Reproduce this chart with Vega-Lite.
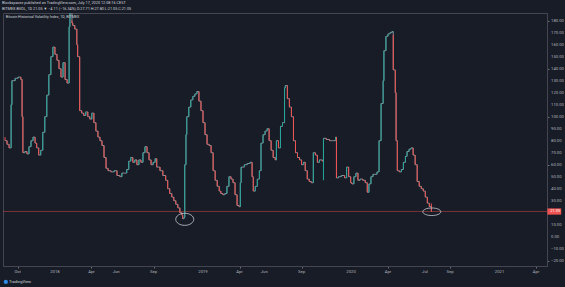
{
  "$schema": "https://vega.github.io/schema/vega-lite/v6.json",
  "width": 544,
  "height": 253,
  "autosize": {"type": "none"},
  "padding": {"left": 3, "top": 13, "right": 18, "bottom": 21},
  "background": "#181c27",
  "config": {"view": {"stroke": "#434651", "strokeWidth": 1}, "font": "Roboto"},
  "title": {
    "text": "Blockspacez published on TradingView.com, July 17, 2020 12:08:16 CEST",
    "subtitle": "BITMEX:BVOL, 1D  21.05 ▼ −4.11 (−16.34%)  O:27.71  H:27.80  L:21.05  C:21.05",
    "anchor": "start",
    "frame": "group",
    "fontSize": 3.8,
    "subtitleFontSize": 3.8,
    "fontWeight": "normal",
    "color": "#d1d4dc",
    "subtitleColor": "#d1d4dc",
    "offset": 2,
    "subtitlePadding": 2,
    "dx": -1
  },
  "datasets": {
    "xticks": [
      {"t": "2017-10-01", "lab": "Oct"},
      {"t": "2018-01-01", "lab": "2018"},
      {"t": "2018-04-01", "lab": "Apr"},
      {"t": "2018-06-01", "lab": "Jun"},
      {"t": "2018-09-01", "lab": "Sep"},
      {"t": "2019-01-01", "lab": "2019"},
      {"t": "2019-04-01", "lab": "Apr"},
      {"t": "2019-06-01", "lab": "Jun"},
      {"t": "2019-09-01", "lab": "Sep"},
      {"t": "2020-01-01", "lab": "2020"},
      {"t": "2020-04-01", "lab": "Apr"},
      {"t": "2020-07-01", "lab": "Jul"},
      {"t": "2020-09-01", "lab": "Sep"},
      {"t": "2021-01-01", "lab": "2021"},
      {"t": "2021-04-01", "lab": "Apr"}
    ],
    "yticks": [
      {"v": -20}, {"v": -10}, {"v": 0}, {"v": 10}, {"v": 30}, {"v": 40}, {"v": 50}, {"v": 60}, {"v": 70}, {"v": 80},
      {"v": 90}, {"v": 100}, {"v": 110}, {"v": 120}, {"v": 130}, {"v": 140}, {"v": 150}, {"v": 160}, {"v": 170}, {"v": 180}
    ],
    "bvol": [
      {"d": "2017-08-31", "o": 83, "c": 80},
      {"d": "2017-09-05", "o": 80, "c": 77},
      {"d": "2017-09-10", "o": 77, "c": 74},
      {"d": "2017-09-15", "o": 74, "c": 110},
      {"d": "2017-09-17", "o": 110, "c": 130},
      {"d": "2017-09-25", "o": 130, "c": 132},
      {"d": "2017-10-02", "o": 132, "c": 133},
      {"d": "2017-10-09", "o": 133, "c": 131},
      {"d": "2017-10-12", "o": 131, "c": 100},
      {"d": "2017-10-14", "o": 100, "c": 70},
      {"d": "2017-10-19", "o": 70, "c": 71},
      {"d": "2017-10-24", "o": 71, "c": 69},
      {"d": "2017-10-29", "o": 69, "c": 75},
      {"d": "2017-11-03", "o": 75, "c": 80},
      {"d": "2017-11-08", "o": 80, "c": 83},
      {"d": "2017-11-13", "o": 83, "c": 78},
      {"d": "2017-11-17", "o": 78, "c": 74},
      {"d": "2017-11-22", "o": 74, "c": 68},
      {"d": "2017-11-27", "o": 68, "c": 72},
      {"d": "2017-12-02", "o": 72, "c": 87},
      {"d": "2017-12-07", "o": 87, "c": 100},
      {"d": "2017-12-12", "o": 100, "c": 118},
      {"d": "2017-12-17", "o": 118, "c": 135},
      {"d": "2017-12-22", "o": 135, "c": 150},
      {"d": "2017-12-27", "o": 150, "c": 158},
      {"d": "2018-01-01", "o": 158, "c": 152},
      {"d": "2018-01-06", "o": 152, "c": 147},
      {"d": "2018-01-11", "o": 147, "c": 140},
      {"d": "2018-01-16", "o": 140, "c": 133},
      {"d": "2018-01-21", "o": 133, "c": 145},
      {"d": "2018-01-26", "o": 145, "c": 131},
      {"d": "2018-01-31", "o": 131, "c": 128},
      {"d": "2018-02-05", "o": 128, "c": 175},
      {"d": "2018-02-07", "o": 175, "c": 197},
      {"d": "2018-02-12", "o": 180, "c": 178},
      {"d": "2018-02-14", "o": 178, "c": 176},
      {"d": "2018-02-19", "o": 176, "c": 173},
      {"d": "2018-02-24", "o": 173, "c": 160},
      {"d": "2018-02-26", "o": 160, "c": 150},
      {"d": "2018-03-03", "o": 150, "c": 105},
      {"d": "2018-03-08", "o": 105, "c": 103},
      {"d": "2018-03-13", "o": 103, "c": 101},
      {"d": "2018-03-18", "o": 101, "c": 104},
      {"d": "2018-03-23", "o": 104, "c": 100},
      {"d": "2018-03-28", "o": 100, "c": 98},
      {"d": "2018-04-02", "o": 98, "c": 103},
      {"d": "2018-04-07", "o": 103, "c": 95},
      {"d": "2018-04-12", "o": 95, "c": 88},
      {"d": "2018-04-17", "o": 88, "c": 83},
      {"d": "2018-04-22", "o": 83, "c": 80},
      {"d": "2018-04-27", "o": 80, "c": 76},
      {"d": "2018-05-02", "o": 76, "c": 66},
      {"d": "2018-05-07", "o": 66, "c": 57},
      {"d": "2018-05-12", "o": 57, "c": 55},
      {"d": "2018-05-19", "o": 55, "c": 54},
      {"d": "2018-05-27", "o": 54, "c": 55},
      {"d": "2018-06-03", "o": 55, "c": 51},
      {"d": "2018-06-10", "o": 51, "c": 50},
      {"d": "2018-06-15", "o": 50, "c": 53},
      {"d": "2018-06-22", "o": 53, "c": 53},
      {"d": "2018-06-27", "o": 53, "c": 56},
      {"d": "2018-07-02", "o": 56, "c": 63},
      {"d": "2018-07-07", "o": 63, "c": 66},
      {"d": "2018-07-12", "o": 66, "c": 62},
      {"d": "2018-07-17", "o": 62, "c": 64},
      {"d": "2018-07-22", "o": 64, "c": 60},
      {"d": "2018-07-27", "o": 60, "c": 64},
      {"d": "2018-08-01", "o": 64, "c": 62},
      {"d": "2018-08-06", "o": 62, "c": 70},
      {"d": "2018-08-11", "o": 70, "c": 75},
      {"d": "2018-08-16", "o": 75, "c": 70},
      {"d": "2018-08-21", "o": 70, "c": 64},
      {"d": "2018-08-26", "o": 64, "c": 60},
      {"d": "2018-08-31", "o": 60, "c": 62},
      {"d": "2018-09-05", "o": 62, "c": 65},
      {"d": "2018-09-09", "o": 65, "c": 58},
      {"d": "2018-09-17", "o": 58, "c": 55},
      {"d": "2018-09-24", "o": 55, "c": 51},
      {"d": "2018-10-01", "o": 51, "c": 47},
      {"d": "2018-10-06", "o": 47, "c": 40},
      {"d": "2018-10-11", "o": 40, "c": 36},
      {"d": "2018-10-16", "o": 36, "c": 33},
      {"d": "2018-10-21", "o": 33, "c": 30},
      {"d": "2018-10-26", "o": 30, "c": 27},
      {"d": "2018-10-31", "o": 27, "c": 24},
      {"d": "2018-11-05", "o": 24, "c": 20},
      {"d": "2018-11-10", "o": 20, "c": 18},
      {"d": "2018-11-12", "o": 18, "c": 15},
      {"d": "2018-11-15", "o": 15, "c": 16},
      {"d": "2018-11-17", "o": 16, "c": 60},
      {"d": "2018-11-20", "o": 60, "c": 85},
      {"d": "2018-11-22", "o": 85, "c": 100},
      {"d": "2018-11-27", "o": 100, "c": 108},
      {"d": "2018-12-02", "o": 108, "c": 114},
      {"d": "2018-12-07", "o": 114, "c": 117},
      {"d": "2018-12-12", "o": 117, "c": 119},
      {"d": "2018-12-17", "o": 119, "c": 121},
      {"d": "2018-12-22", "o": 121, "c": 113},
      {"d": "2018-12-27", "o": 113, "c": 105},
      {"d": "2019-01-01", "o": 105, "c": 95},
      {"d": "2019-01-06", "o": 95, "c": 85},
      {"d": "2019-01-11", "o": 85, "c": 77},
      {"d": "2019-01-16", "o": 77, "c": 76},
      {"d": "2019-01-21", "o": 76, "c": 70},
      {"d": "2019-01-26", "o": 70, "c": 55},
      {"d": "2019-01-31", "o": 55, "c": 47},
      {"d": "2019-02-05", "o": 47, "c": 42},
      {"d": "2019-02-10", "o": 42, "c": 38},
      {"d": "2019-02-14", "o": 38, "c": 36},
      {"d": "2019-02-19", "o": 36, "c": 35},
      {"d": "2019-02-24", "o": 35, "c": 36},
      {"d": "2019-03-01", "o": 36, "c": 42},
      {"d": "2019-03-06", "o": 42, "c": 50},
      {"d": "2019-03-11", "o": 50, "c": 48},
      {"d": "2019-03-16", "o": 48, "c": 45},
      {"d": "2019-03-21", "o": 45, "c": 35},
      {"d": "2019-03-26", "o": 35, "c": 26},
      {"d": "2019-03-31", "o": 26, "c": 25},
      {"d": "2019-04-03", "o": 25, "c": 45},
      {"d": "2019-04-05", "o": 45, "c": 58},
      {"d": "2019-04-13", "o": 58, "c": 60},
      {"d": "2019-04-20", "o": 60, "c": 61},
      {"d": "2019-04-27", "o": 61, "c": 62},
      {"d": "2019-05-02", "o": 62, "c": 50},
      {"d": "2019-05-05", "o": 50, "c": 38},
      {"d": "2019-05-10", "o": 38, "c": 42},
      {"d": "2019-05-15", "o": 42, "c": 48},
      {"d": "2019-05-20", "o": 48, "c": 55},
      {"d": "2019-05-24", "o": 55, "c": 78},
      {"d": "2019-05-29", "o": 78, "c": 85},
      {"d": "2019-06-03", "o": 85, "c": 88},
      {"d": "2019-06-08", "o": 88, "c": 90},
      {"d": "2019-06-13", "o": 90, "c": 80},
      {"d": "2019-06-18", "o": 80, "c": 72},
      {"d": "2019-06-23", "o": 72, "c": 66},
      {"d": "2019-06-28", "o": 66, "c": 64},
      {"d": "2019-07-01", "o": 64, "c": 80},
      {"d": "2019-07-06", "o": 80, "c": 74},
      {"d": "2019-07-11", "o": 74, "c": 92},
      {"d": "2019-07-16", "o": 92, "c": 95},
      {"d": "2019-07-21", "o": 95, "c": 124},
      {"d": "2019-07-23", "o": 124, "c": 126},
      {"d": "2019-07-28", "o": 126, "c": 115},
      {"d": "2019-08-02", "o": 115, "c": 108},
      {"d": "2019-08-07", "o": 108, "c": 100},
      {"d": "2019-08-12", "o": 100, "c": 80},
      {"d": "2019-08-17", "o": 80, "c": 70},
      {"d": "2019-08-22", "o": 70, "c": 66},
      {"d": "2019-08-27", "o": 66, "c": 64},
      {"d": "2019-09-01", "o": 64, "c": 60},
      {"d": "2019-09-06", "o": 60, "c": 62},
      {"d": "2019-09-10", "o": 62, "c": 55},
      {"d": "2019-09-15", "o": 55, "c": 48},
      {"d": "2019-09-20", "o": 48, "c": 46},
      {"d": "2019-09-25", "o": 46, "c": 45},
      {"d": "2019-09-30", "o": 45, "c": 70},
      {"d": "2019-10-05", "o": 70, "c": 68},
      {"d": "2019-10-10", "o": 68, "c": 62},
      {"d": "2019-10-15", "o": 62, "c": 64},
      {"d": "2019-10-22", "o": 64, "c": 63},
      {"d": "2019-10-25", "o": 47, "c": 82},
      {"d": "2019-11-01", "o": 82, "c": 81},
      {"d": "2019-11-09", "o": 81, "c": 80},
      {"d": "2019-11-16", "o": 80, "c": 80},
      {"d": "2019-11-24", "o": 80, "c": 83},
      {"d": "2019-11-26", "o": 83, "c": 49},
      {"d": "2019-12-01", "o": 49, "c": 50},
      {"d": "2019-12-08", "o": 50, "c": 51},
      {"d": "2019-12-16", "o": 51, "c": 49},
      {"d": "2019-12-21", "o": 49, "c": 58},
      {"d": "2019-12-26", "o": 58, "c": 50},
      {"d": "2019-12-31", "o": 50, "c": 45},
      {"d": "2020-01-03", "o": 45, "c": 44},
      {"d": "2020-01-08", "o": 44, "c": 50},
      {"d": "2020-01-13", "o": 50, "c": 53},
      {"d": "2020-01-18", "o": 53, "c": 47},
      {"d": "2020-01-23", "o": 47, "c": 48},
      {"d": "2020-01-30", "o": 48, "c": 47},
      {"d": "2020-02-05", "o": 47, "c": 45},
      {"d": "2020-02-10", "o": 45, "c": 37},
      {"d": "2020-02-14", "o": 37, "c": 44},
      {"d": "2020-02-19", "o": 44, "c": 50},
      {"d": "2020-02-24", "o": 50, "c": 52},
      {"d": "2020-02-29", "o": 52, "c": 52},
      {"d": "2020-03-05", "o": 52, "c": 54},
      {"d": "2020-03-10", "o": 54, "c": 80},
      {"d": "2020-03-15", "o": 80, "c": 111},
      {"d": "2020-03-20", "o": 111, "c": 130},
      {"d": "2020-03-22", "o": 130, "c": 155},
      {"d": "2020-03-27", "o": 155, "c": 167},
      {"d": "2020-04-01", "o": 167, "c": 169},
      {"d": "2020-04-06", "o": 169, "c": 170},
      {"d": "2020-04-11", "o": 170, "c": 171},
      {"d": "2020-04-14", "o": 168, "c": 139},
      {"d": "2020-04-19", "o": 139, "c": 120},
      {"d": "2020-04-21", "o": 120, "c": 80},
      {"d": "2020-04-24", "o": 80, "c": 55},
      {"d": "2020-04-29", "o": 55, "c": 54},
      {"d": "2020-05-04", "o": 54, "c": 56},
      {"d": "2020-05-09", "o": 56, "c": 62},
      {"d": "2020-05-14", "o": 62, "c": 67},
      {"d": "2020-05-18", "o": 67, "c": 71},
      {"d": "2020-05-23", "o": 71, "c": 73},
      {"d": "2020-05-28", "o": 73, "c": 74},
      {"d": "2020-06-02", "o": 74, "c": 68},
      {"d": "2020-06-07", "o": 68, "c": 60},
      {"d": "2020-06-12", "o": 60, "c": 46},
      {"d": "2020-06-17", "o": 46, "c": 42},
      {"d": "2020-06-22", "o": 42, "c": 40},
      {"d": "2020-06-27", "o": 40, "c": 38},
      {"d": "2020-07-02", "o": 38, "c": 33},
      {"d": "2020-07-07", "o": 33, "c": 28},
      {"d": "2020-07-12", "o": 28, "c": 25.16},
      {"d": "2020-07-17", "o": 27.71, "c": 21.05}
    ]
  },
  "layer": [
    {
      "data": {"name": "bvol"},
      "mark": {"type": "line", "interpolate": "step-after", "color": "#8a8e98", "strokeWidth": 1, "clip": true},
      "encoding": {
        "x": {
          "field": "d",
          "type": "temporal",
          "scale": {"type": "utc", "domain": [{"year": 2017, "month": 8, "date": 26, "utc": true}, {"year": 2021, "month": 4, "date": 28, "utc": true}]},
          "axis": {
            "orient": "bottom",
            "title": null,
            "grid": false,
            "labels": false,
            "values": [
              {"year": 2017, "month": 10, "date": 1, "utc": true},
              {"year": 2018, "month": 1, "date": 1, "utc": true},
              {"year": 2018, "month": 4, "date": 1, "utc": true},
              {"year": 2018, "month": 6, "date": 1, "utc": true},
              {"year": 2018, "month": 9, "date": 1, "utc": true},
              {"year": 2019, "month": 1, "date": 1, "utc": true},
              {"year": 2019, "month": 4, "date": 1, "utc": true},
              {"year": 2019, "month": 6, "date": 1, "utc": true},
              {"year": 2019, "month": 9, "date": 1, "utc": true},
              {"year": 2020, "month": 1, "date": 1, "utc": true},
              {"year": 2020, "month": 4, "date": 1, "utc": true},
              {"year": 2020, "month": 7, "date": 1, "utc": true},
              {"year": 2020, "month": 9, "date": 1, "utc": true},
              {"year": 2021, "month": 1, "date": 1, "utc": true},
              {"year": 2021, "month": 4, "date": 1, "utc": true}
            ],
            "tickSize": 2,
            "tickColor": "#6a6d78",
            "domainColor": "#434651"
          }
        },
        "y": {
          "field": "c",
          "type": "quantitative",
          "scale": {"domain": [-24.4, 186.4], "nice": false, "zero": false},
          "axis": {
            "orient": "right",
            "title": null,
            "grid": false,
            "labels": false,
            "values": [-20, -10, 0, 10, 20, 30, 40, 50, 60, 70, 80, 90, 100, 110, 120, 130, 140, 150, 160, 170, 180],
            "tickSize": 2,
            "tickColor": "#6a6d78",
            "domainColor": "#434651"
          }
        }
      }
    },
    {
      "data": {"values": [{}]},
      "mark": {"type": "rule", "color": "#ef5350", "strokeWidth": 0.6, "opacity": 0.75},
      "encoding": {"y": {"datum": 21.05, "type": "quantitative"}}
    },
    {
      "data": {"name": "bvol"},
      "mark": {"type": "rule", "strokeWidth": 1, "clip": true},
      "encoding": {
        "x": {"field": "d", "type": "temporal"},
        "y": {"field": "o", "type": "quantitative"},
        "y2": {"field": "c"},
        "color": {"condition": {"test": "datum.c >= datum.o", "value": "#26a69a"}, "value": "#ef5350"}
      }
    },
    {
      "data": {"name": "xticks"},
      "mark": {"type": "text", "align": "center", "baseline": "middle", "fontSize": 4.2, "color": "#b2b5be"},
      "encoding": {
        "x": {"field": "t", "type": "temporal"},
        "y": {"datum": -29.2, "type": "quantitative"},
        "text": {"field": "lab"}
      }
    },
    {
      "data": {"name": "yticks"},
      "mark": {"type": "text", "align": "left", "baseline": "middle", "fontSize": 4.2, "color": "#b2b5be"},
      "encoding": {
        "x": {"datum": {"year": 2021, "month": 5, "date": 8, "utc": true}, "type": "temporal"},
        "y": {"field": "v", "type": "quantitative"},
        "text": {"field": "v", "type": "quantitative", "format": ".2f"}
      }
    },
    {
      "data": {"values": [{}]},
      "mark": {"type": "point", "shape": "M-1,0A1,0.67,0,1,1,1,0A1,0.67,0,1,1,-1,0Z", "size": 324, "filled": false, "stroke": "#c8ccd4", "strokeWidth": 0.8, "opacity": 1},
      "encoding": {
        "x": {"datum": {"year": 2018, "month": 11, "date": 17, "utc": true}, "type": "temporal"},
        "y": {"datum": 14.5, "type": "quantitative"}
      }
    },
    {
      "data": {"values": [{}]},
      "mark": {"type": "point", "shape": "M-1,0A1,0.42,0,1,1,1,0A1,0.42,0,1,1,-1,0Z", "size": 324, "filled": false, "stroke": "#c8ccd4", "strokeWidth": 0.8, "opacity": 1},
      "encoding": {
        "x": {"datum": {"year": 2020, "month": 7, "date": 18, "utc": true}, "type": "temporal"},
        "y": {"datum": 20.8, "type": "quantitative"}
      }
    },
    {
      "data": {"values": [{}]},
      "mark": {"type": "text", "align": "left", "baseline": "middle", "fontSize": 3.7, "color": "#d1d4dc"},
      "encoding": {
        "x": {"datum": {"year": 2017, "month": 9, "date": 2, "utc": true}, "type": "temporal"},
        "y": {"datum": 182.8, "type": "quantitative"},
        "text": {"value": "Bitcoin Historical Volatility Index, 1D, BITMEX"}
      }
    },
    {
      "data": {"values": [{}]},
      "mark": {"type": "rect", "color": "#ef5350"},
      "encoding": {
        "x": {"datum": {"year": 2021, "month": 4, "date": 29, "utc": true}, "type": "temporal"},
        "x2": {"datum": {"year": 2021, "month": 6, "date": 2, "utc": true}},
        "y": {"datum": 23.6, "type": "quantitative"},
        "y2": {"datum": 18.4}
      }
    },
    {
      "data": {"values": [{}]},
      "mark": {"type": "text", "align": "left", "baseline": "middle", "fontSize": 4, "color": "#ffffff"},
      "encoding": {
        "x": {"datum": {"year": 2021, "month": 5, "date": 6, "utc": true}, "type": "temporal"},
        "y": {"datum": 21.05, "type": "quantitative"},
        "text": {"value": "21.05"}
      }
    },
    {
      "data": {"values": [{}]},
      "mark": {"type": "point", "shape": "circle", "filled": true, "size": 18, "color": "#2e8be6", "opacity": 1},
      "encoding": {
        "x": {"datum": {"year": 2017, "month": 9, "date": 2, "utc": true}, "type": "temporal"},
        "y": {"datum": -37.7, "type": "quantitative"}
      }
    },
    {
      "data": {"values": [{}]},
      "mark": {"type": "text", "align": "left", "baseline": "middle", "fontSize": 4, "color": "#d1d4dc"},
      "encoding": {
        "x": {"datum": {"year": 2017, "month": 9, "date": 10, "utc": true}, "type": "temporal"},
        "y": {"datum": -37.7, "type": "quantitative"},
        "text": {"value": "TradingView"}
      }
    }
  ]
}
